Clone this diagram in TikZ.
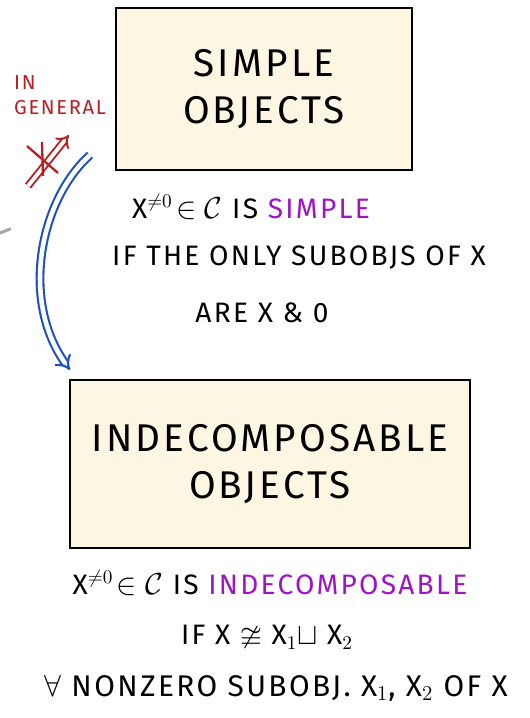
\documentclass[tikz,border=0pt]{standalone}
\usepackage{amsmath,amssymb}
\usepackage{fontspec}
\setmainfont{Fira Sans}[LetterSpace=8]
\usepackage{tikz}
\usetikzlibrary{arrows.meta, positioning}
\definecolor{boxcream}{RGB}{253,246,227}
\definecolor{defpurple}{RGB}{160,20,200}
\definecolor{notered}{RGB}{185,30,35}
\definecolor{arrowblue}{RGB}{30,80,190}
\definecolor{stubgray}{RGB}{170,170,165}
\tikzset{
  objbox/.style={
    rectangle, draw, line width=1.1pt, fill=boxcream,
    text centered, align=center,
    font=\fontsize{22}{27}\selectfont
  },
  defline/.style={font=\fontsize{16}{19}\selectfont},
  dblarr/.style={double, double distance=2.6pt, line width=1.2pt,
                 -{Implies[scale=1.3]}},
  note/.style={font=\fontsize{11.5}{12}\selectfont, text=notered, anchor=west}
}

\begin{document}
\begin{tikzpicture}[x=0.02cm, y=-0.02cm]
  \useasboundingbox (0,0) rectangle (529,718);

  %% ── boxes ───────────────────────────────────────────────
  \node[objbox, minimum width=5.92cm, minimum height=3.24cm] (simple)
        at (264,89) {SIMPLE\\OBJECTS};

  \node[objbox, minimum width=8cm, minimum height=3.36cm] (indec)
        at (270,464) {INDECOMPOSABLE\\OBJECTS};

  %% ── definition of simple ────────────────────────────────
  \node[defline] (sdefA) at (251,207)
        {X$^{\neq 0}\!\in\mathcal{C}$ IS \textcolor{defpurple}{SIMPLE}};
  \node[defline] (sdefB) at (299,258) {IF THE ONLY SUBOBJS OF X};
  \node[defline] (sdefC) at (262,313) {ARE X \& 0};

  %% ── definition of indecomposable ────────────────────────
  \node[defline] (idefA) at (270,583)
        {X$^{\neq 0}\!\in\mathcal{C}$ IS \textcolor{defpurple}{INDECOMPOSABLE}};
  \node[defline] (idefB) at (267,638)
        {IF X $\ncong$ X$_1\sqcup$ X$_2$};
  \node[defline, font=\fontsize{17}{20}\selectfont] (idefC) at (276,688)
        {$\forall$ NONZERO SUBOBJ. X$_1$, X$_2$ OF X};

  %% ── implication arrows ──────────────────────────────────
  \coordinate (bstart) at (90,155);
  \coordinate (bend)   at (70,370);
  \draw[dblarr, arrowblue] (bstart) .. controls (40,200) and (20,300) .. (bend);

  \node[note] (inlbl)  at (8,83)  {IN};
  \node[note] (genlbl) at (8,108) {GENERAL};
  \coordinate (rstart) at (28,186);
  \coordinate (rend)   at (69,135);
  \draw[dblarr, notered, line width=1.1pt, double distance=2.2pt] (rstart) -- (rend);
  \coordinate (xa) at (27,146);
  \coordinate (xb) at (58,173);
  \coordinate (xc) at (42,142);
  \coordinate (xd) at (43,176);
  \draw[notered, line width=1.3pt] (xa) -- (xb);
  \draw[notered, line width=1.3pt] (xc) -- (xd);

  %% ── stray stroke at the edge ────────────────────────────
  \coordinate (ga) at (0,233);
  \coordinate (gb) at (10,229);
  \draw[stubgray, line width=1.8pt, line cap=round] (ga) -- (gb);

\end{tikzpicture}
\end{document}
